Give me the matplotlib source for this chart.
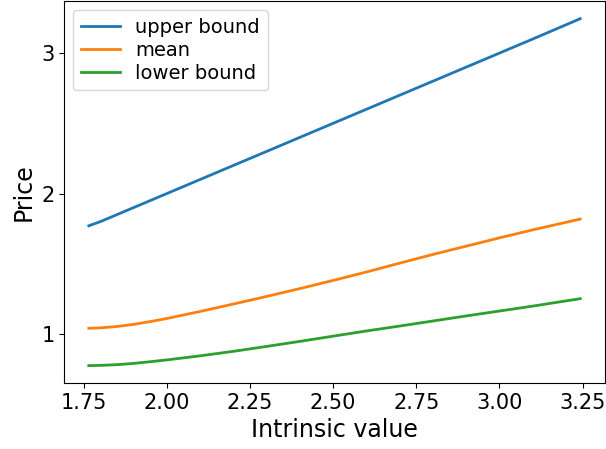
import matplotlib
matplotlib.use('Agg')
import matplotlib.pyplot as plt

# Valori
intrinsic = [1.765, 1.80, 1.85, 1.90, 1.95, 2.00, 2.10, 2.20, 2.30, 2.40, 2.50,
             2.60, 2.70, 2.80, 2.90, 3.00, 3.10, 3.243]
upper_bound = [1.770, 1.80, 1.85, 1.90, 1.95, 2.00, 2.10, 2.20, 2.30, 2.40, 2.50,
               2.60, 2.70, 2.80, 2.90, 3.00, 3.10, 3.245]
mean_price = [1.040, 1.043, 1.053, 1.068, 1.088, 1.110, 1.160, 1.213, 1.267, 1.323, 1.381,
              1.441, 1.504, 1.566, 1.625, 1.684, 1.741, 1.818]
lower_bound = [0.774, 0.776, 0.781, 0.790, 0.802, 0.815, 0.844, 0.876, 0.911, 0.947, 0.984,
               1.021, 1.056, 1.092, 1.128, 1.163, 1.198, 1.251]

fig, ax = plt.subplots(figsize=(6.06, 4.49), dpi=100)
fig.subplots_adjust(left=0.106, right=0.998, top=0.997, bottom=0.147)

ax.plot(intrinsic, upper_bound, lw=2, label='upper bound')
ax.plot(intrinsic, mean_price, lw=2, label='mean')
ax.plot(intrinsic, lower_bound, lw=2, label='lower bound')

ax.set_xlabel('Intrinsic value', fontsize=17)
ax.set_ylabel('Price', fontsize=17)
ax.tick_params(labelsize=15)
ax.set_xticks([1.75, 2.00, 2.25, 2.50, 2.75, 3.00, 3.25])
ax.set_yticks([1, 2, 3])
ax.legend(loc='upper left', fontsize=14, labelspacing=0.2, borderaxespad=0.45)

fig.savefig('out.png', dpi=100)
